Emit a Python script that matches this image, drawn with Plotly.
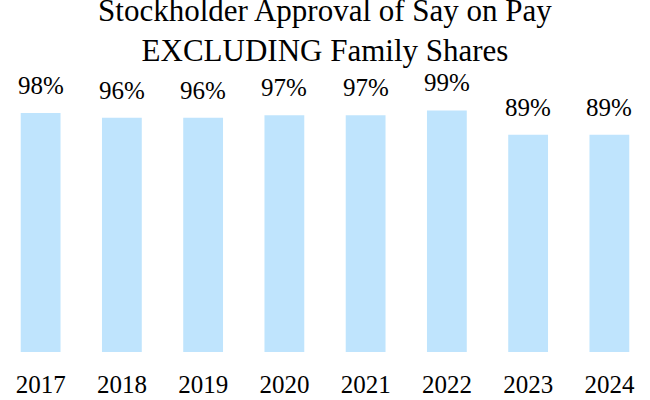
import plotly.graph_objects as go

years = ["2017", "2018", "2019", "2020", "2021", "2022", "2023", "2024"]
approval = [98, 96, 96, 97, 97, 99, 89, 89]
labels = ["98%", "96%", "96%", "97%", "97%", "99%", "89%", "89%"]

FONT = "Liberation Serif"

fig = go.Figure()
fig.add_trace(go.Bar(
    x=years, y=approval,
    marker=dict(color="#BFE4FD", line=dict(width=0)),
    hoverinfo="skip",
))

for i, (v, lab) in enumerate(zip(approval, labels)):
    fig.add_annotation(
        x=i, y=v, xref="x", yref="y", text=lab, showarrow=False,
        xanchor="center", yanchor="bottom", yshift=12,
        font=dict(family=FONT, size=25, color="#000000"),
    )

fig.update_layout(
    width=650, height=400,
    margin=dict(l=0, r=0, t=108, b=48),
    paper_bgcolor="white", plot_bgcolor="white",
    bargap=0.51,
    showlegend=False,
    title=dict(
        text="Stockholder Approval of Say on Pay<br>EXCLUDING Family Shares",
        x=0.5, xanchor="center", yref="container", y=0.9475, yanchor="top",
        font=dict(family=FONT, size=31, color="#000000"),
    ),
    xaxis=dict(
        type="category", range=[-0.5, 7.5],
        showline=False, showgrid=False, zeroline=False, ticks="",
        ticklabelstandoff=15,
        tickfont=dict(family=FONT, size=25, color="#000000"),
    ),
    yaxis=dict(
        range=[0, 100], visible=False,
        showgrid=False, zeroline=False,
    ),
)

fig.write_html("out.html", config={"displayModeBar": False},
               post_script="document.body.style.margin='0';")
